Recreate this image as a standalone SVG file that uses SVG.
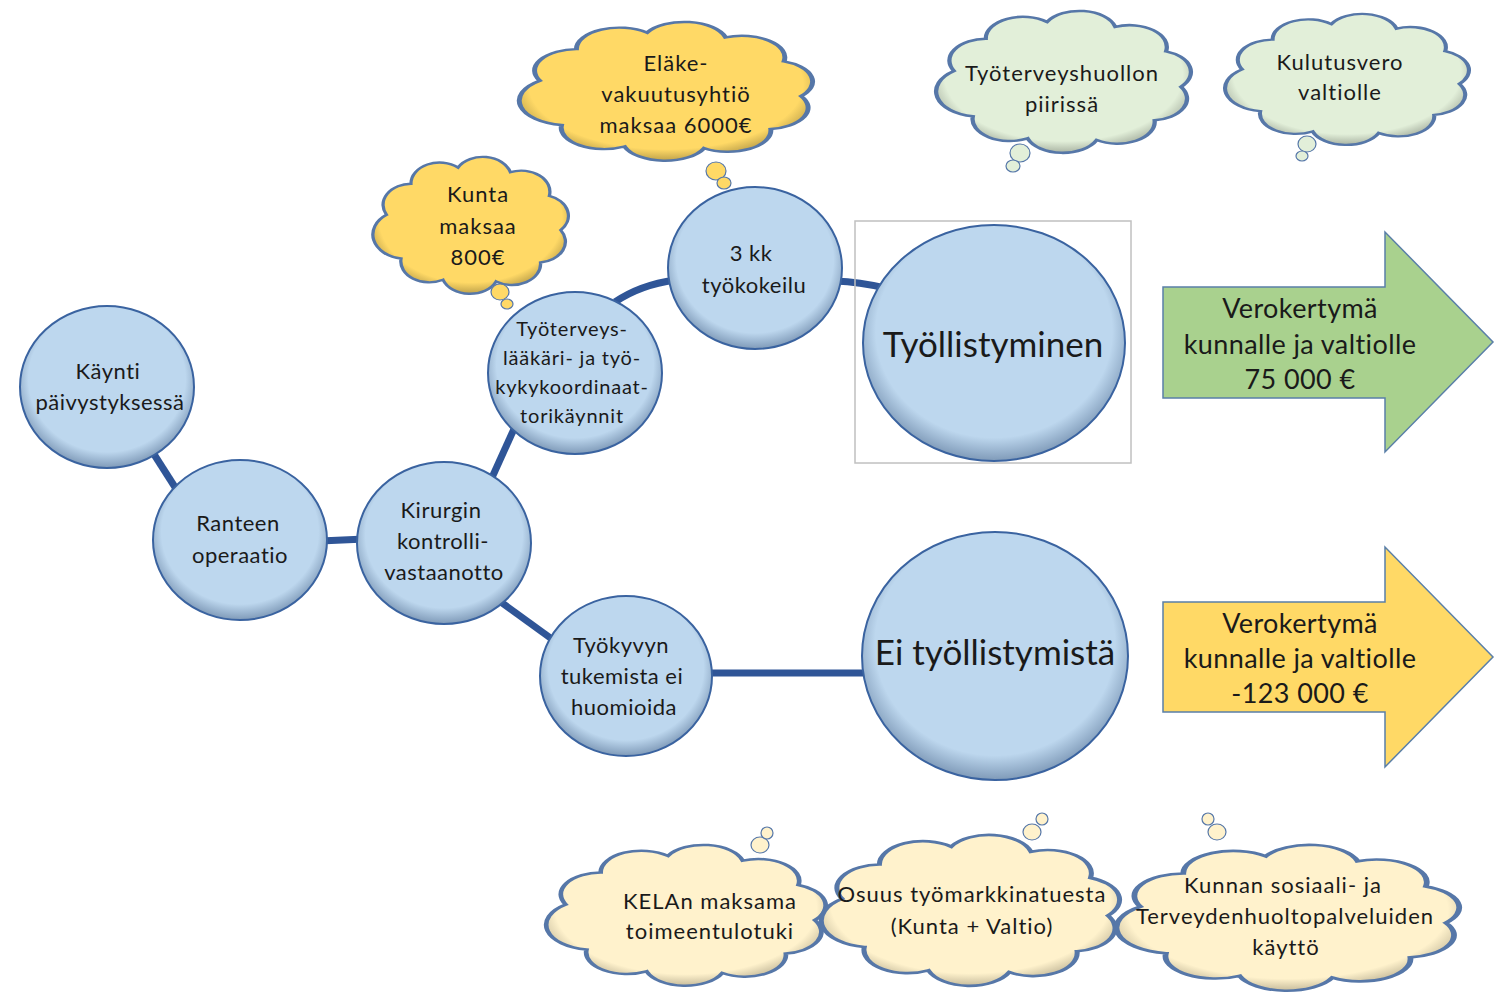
<svg xmlns="http://www.w3.org/2000/svg" width="1495" height="994" viewBox="0 0 1495 994">
<defs>
<radialGradient id="gBlue" cx="50%" cy="45%" r="55%">
<stop offset="0%" stop-color="#BDD7EE"/><stop offset="82%" stop-color="#BDD7EE"/><stop offset="100%" stop-color="#7F9AB8"/>
</radialGradient>
<radialGradient id="gGold" cx="50%" cy="45%" r="55%">
<stop offset="0%" stop-color="#FFD966"/><stop offset="85%" stop-color="#FFD966"/><stop offset="100%" stop-color="#BFA24A"/>
</radialGradient>
<radialGradient id="gGreenC" cx="50%" cy="45%" r="55%">
<stop offset="0%" stop-color="#E2EFD9"/><stop offset="85%" stop-color="#E2EFD9"/><stop offset="100%" stop-color="#A9B3A2"/>
</radialGradient>
<radialGradient id="gCream" cx="50%" cy="45%" r="55%">
<stop offset="0%" stop-color="#FFF2CC"/><stop offset="85%" stop-color="#FFF2CC"/><stop offset="100%" stop-color="#C7BC9C"/>
</radialGradient>
<path id="cloud" d="M10.6,43.7 A13,13 0 0 1 21.7,24.5 A13,13 0 0 1 43.1,14.5 A13,13 0 0 1 66.9,17.4 A13,13 0 0 1 84.6,32 A13,13 0 0 1 89.8,53.1 A13,13 0 0 1 80.6,73.1 A13,13 0 0 1 60.4,84.8 A13,13 0 0 1 36.3,83.8 A13,13 0 0 1 17.2,70.7 A15,15 0 0 1 10.6,43.7 Z"/>
</defs>
<style>
.node{fill:url(#gBlue);stroke:#3A63A0;stroke-width:2}
.conn{stroke:#2F5597;stroke-width:7;fill:none}
.t{font-family:Lato,"Open Sans","Liberation Sans",sans-serif;fill:#1a1a1a;text-anchor:middle;dominant-baseline:central}
.s20{font-size:22px;letter-spacing:0.5px}
.s18{font-size:20px;letter-spacing:0.8px}
.sc{font-size:22px;letter-spacing:1px}
.s32{font-size:35px}
.s24{font-size:27px;letter-spacing:0.4px}
.cl{stroke:#5677A8;stroke-width:1.5;vector-effect:non-scaling-stroke}
.bub{stroke:#5677A8;stroke-width:1.2}
</style>
<rect width="1495" height="994" fill="#FFFFFF"/>

<g id="connectors">
<line class="conn" x1="150" y1="448" x2="180" y2="495"/>
<line class="conn" x1="320" y1="541" x2="365" y2="539"/>
<line class="conn" x1="490" y1="482" x2="518" y2="420"/>
<line class="conn" x1="498" y1="600" x2="556" y2="642"/>
<path class="conn" d="M615,302 Q640,285 675,280"/>
<path class="conn" d="M835,281 Q860,282 885,288"/>
<line class="conn" x1="705" y1="673" x2="870" y2="673"/>
</g>

<g id="cloud-elake">
<use href="#cloud" class="cl" fill="url(#gGold)" transform="translate(518,22) scale(3.3,1.643) translate(-4,-8)"/>
<ellipse class="bub" cx="716" cy="171" rx="10" ry="9" fill="#FFD966"/>
<ellipse class="bub" cx="724" cy="183" rx="7" ry="6" fill="#FFD966"/>
<text class="t sc"><tspan x="676" y="62">Eläke-</tspan><tspan x="676" y="93">vakuutusyhtiö</tspan><tspan x="676" y="124">maksaa 6000€</tspan></text>
</g>

<g id="cloud-kunta">
<use href="#cloud" class="cl" fill="url(#gGold)" transform="translate(372,157) scale(2.2,1.62) translate(-4,-8)"/>
<ellipse class="bub" cx="500" cy="292" rx="9" ry="8" fill="#FFD966"/>
<ellipse class="bub" cx="507" cy="304" rx="6" ry="5" fill="#FFD966"/>
<text class="t sc"><tspan x="478" y="193">Kunta</tspan><tspan x="478" y="225">maksaa</tspan><tspan x="478" y="256">800€</tspan></text>
</g>

<g id="cloud-tth">
<use href="#cloud" class="cl" fill="url(#gGreenC)" transform="translate(935,11) scale(2.867,1.68) translate(-4,-8)"/>
<ellipse class="bub" cx="1020" cy="153" rx="10" ry="9" fill="#E2EFD9"/>
<ellipse class="bub" cx="1013" cy="166" rx="7" ry="6" fill="#E2EFD9"/>
<text class="t sc"><tspan x="1062" y="72">Työterveyshuollon</tspan><tspan x="1062" y="103">piirissä</tspan></text>
</g>

<g id="cloud-kulutus">
<use href="#cloud" class="cl" fill="url(#gGreenC)" transform="translate(1224,14) scale(2.744,1.55) translate(-4,-8)"/>
<ellipse class="bub" cx="1307" cy="144" rx="9" ry="8" fill="#E2EFD9"/>
<ellipse class="bub" cx="1302" cy="156" rx="6" ry="5" fill="#E2EFD9"/>
<text class="t sc"><tspan x="1340" y="61">Kulutusvero</tspan><tspan x="1340" y="91">valtiolle</tspan></text>
</g>

<g id="node-kaynti">
<ellipse class="node" cx="107" cy="387" rx="87" ry="81"/>
<text class="t s20"><tspan x="108" y="370">Käynti</tspan><tspan x="110" y="401">päivystyksessä</tspan></text>
</g>
<g id="node-ranteen">
<ellipse class="node" cx="240" cy="540" rx="87" ry="80"/>
<text class="t s20"><tspan x="238" y="522">Ranteen</tspan><tspan x="240" y="554">operaatio</tspan></text>
</g>
<g id="node-kirurgin">
<ellipse class="node" cx="444" cy="543" rx="87" ry="81"/>
<text class="t s20"><tspan x="441" y="509">Kirurgin</tspan><tspan x="443" y="540">kontrolli-</tspan><tspan x="444" y="571">vastaanotto</tspan></text>
</g>
<g id="node-tyoterveys">
<ellipse class="node" cx="575" cy="373" rx="87" ry="81"/>
<text class="t s18"><tspan x="572" y="328">Työterveys-</tspan><tspan x="572" y="357">lääkäri- ja työ-</tspan><tspan x="572" y="386">kykykoordinaat-</tspan><tspan x="572" y="415">torikäynnit</tspan></text>
</g>
<g id="node-3kk">
<ellipse class="node" cx="755" cy="268" rx="87" ry="81"/>
<text class="t s20"><tspan x="751" y="252">3 kk</tspan><tspan x="754" y="284">työkokeilu</tspan></text>
</g>
<g id="node-tyokyvyn">
<ellipse class="node" cx="626" cy="676" rx="86" ry="80"/>
<text class="t s20"><tspan x="621" y="644">Työkyvyn</tspan><tspan x="622" y="675">tukemista ei</tspan><tspan x="624" y="706">huomioida</tspan></text>
</g>

<g id="node-tyollistyminen">
<rect x="855" y="221" width="276" height="242" fill="none" stroke="#C0C0C0" stroke-width="1.5"/>
<ellipse class="node" cx="994" cy="343" rx="131" ry="118"/>
<text class="t s32" x="993" y="343">Työllistyminen</text>
</g>
<g id="node-ei">
<ellipse class="node" cx="995" cy="656" rx="133" ry="124"/>
<text class="t s32" x="995" y="651">Ei työllistymistä</text>
</g>

<g id="arrow-green">
<path d="M1163,287 L1385,287 L1385,232 L1493,342 L1385,452 L1385,398 L1163,398 Z" fill="#A9D18E" stroke="#5A7FA8" stroke-width="1.5"/>
<text class="t s24"><tspan x="1300" y="307">Verokertymä</tspan><tspan x="1300" y="343">kunnalle ja valtiolle</tspan><tspan x="1300" y="378">75 000 €</tspan></text>
</g>
<g id="arrow-yellow">
<path d="M1163,602 L1385,602 L1385,547 L1493,657 L1385,767 L1385,712 L1163,712 Z" fill="#FFD966" stroke="#5A7FA8" stroke-width="1.5"/>
<text class="t s24"><tspan x="1300" y="622">Verokertymä</tspan><tspan x="1300" y="657">kunnalle ja valtiolle</tspan><tspan x="1300" y="692">-123 000 €</tspan></text>
</g>

<g id="cloud-kela">
<use href="#cloud" class="cl" fill="url(#gCream)" transform="translate(545,845) scale(3.144,1.667) translate(-4,-8)"/>
<ellipse class="bub" cx="760" cy="845" rx="9" ry="8" fill="#FFF2CC"/>
<ellipse class="bub" cx="767" cy="833" rx="6" ry="6" fill="#FFF2CC"/>
<text class="t sc"><tspan x="710" y="900">KELAn maksama</tspan><tspan x="710" y="930">toimeentulotuki</tspan></text>
</g>
<g id="cloud-osuus">
<use href="#cloud" class="cl" fill="url(#gCream)" transform="translate(820,835) scale(3.356,1.786) translate(-4,-8)"/>
<ellipse class="bub" cx="1032" cy="832" rx="9" ry="8" fill="#FFF2CC"/>
<ellipse class="bub" cx="1042" cy="819" rx="6" ry="6" fill="#FFF2CC"/>
<text class="t sc"><tspan x="972" y="893">Osuus työmarkkinatuesta</tspan><tspan x="972" y="925">(Kunta + Valtio)</tspan></text>
</g>
<g id="cloud-kunnan">
<use href="#cloud" class="cl" fill="url(#gCream)" transform="translate(1115,845) scale(3.856,1.726) translate(-4,-8)"/>
<ellipse class="bub" cx="1217" cy="832" rx="9" ry="8" fill="#FFF2CC"/>
<ellipse class="bub" cx="1208" cy="819" rx="6" ry="6" fill="#FFF2CC"/>
<text class="t sc"><tspan x="1283" y="884">Kunnan sosiaali- ja</tspan><tspan x="1285" y="915">Terveydenhuoltopalveluiden</tspan><tspan x="1286" y="946">käyttö</tspan></text>
</g>
</svg>
